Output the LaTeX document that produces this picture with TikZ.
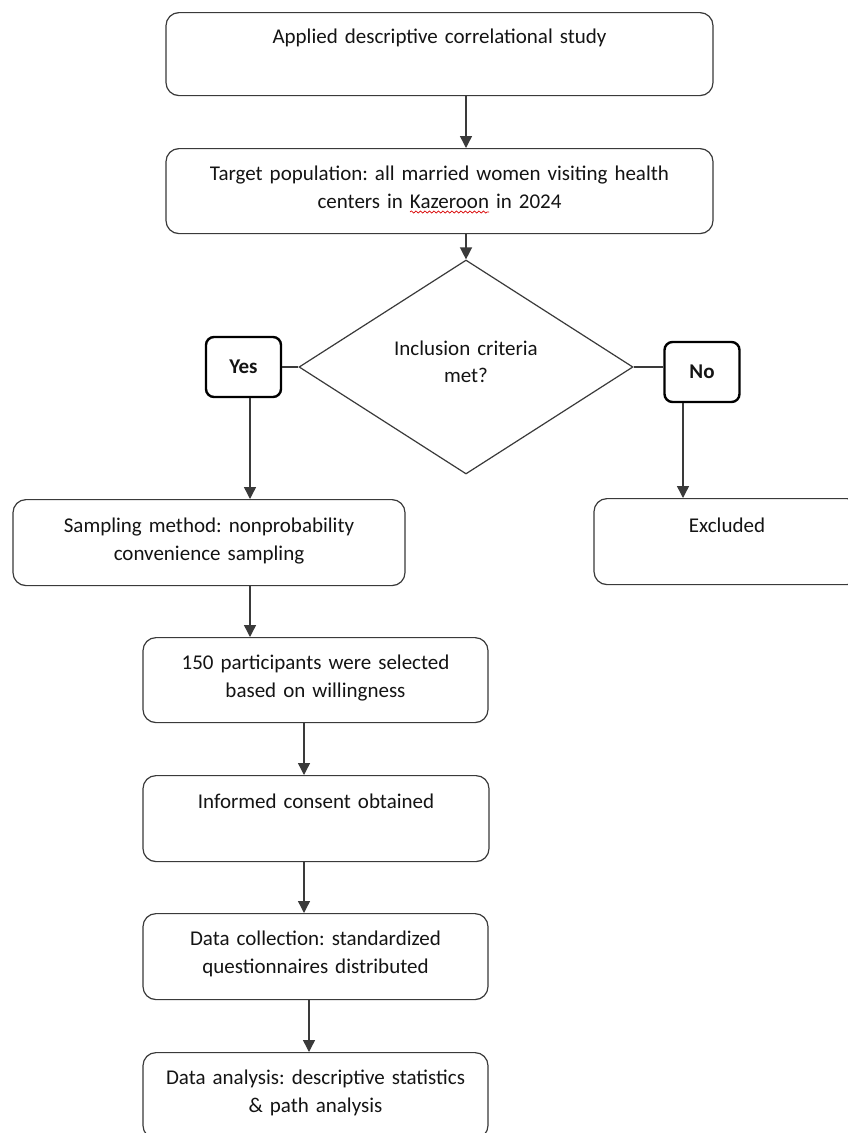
\documentclass[tikz,border=0pt]{standalone}
\usepackage{fontspec}
\setmainfont{Carlito}
\frenchspacing
\usetikzlibrary{shapes.geometric,arrows.meta,calc,decorations.pathmorphing}
\definecolor{edge}{HTML}{3A3A3A}
\definecolor{ink}{HTML}{141414}
\begin{document}
\begin{tikzpicture}[x=1pt,y=-1pt,
  box/.style={draw=edge, line width=1.2pt, rounded corners=13pt, fill=white, inner sep=0pt,
    align=center, font=\fontsize{21}{28}\selectfont, text=ink, anchor=north},
  tag/.style={draw=black, line width=2.4pt, rounded corners=8pt, fill=white, inner sep=0pt,
    font=\bfseries\fontsize{21}{28}\selectfont, text=ink, minimum width=75pt, minimum height=60pt},
  decision/.style={draw=edge, line width=1.2pt, diamond, fill=white, minimum width=334pt,
    minimum height=152pt, inner sep=0pt, text width=150pt, align=center,
    font=\fontsize{21}{27}\selectfont, text=ink},
  arr/.style={draw=edge, line width=1.4pt, -{Triangle[length=12pt,width=12pt]}},
  link/.style={draw=edge, line width=1.4pt},
  spell/.style={draw=red!85!black, line width=0.7pt, decorate,
    decoration={snake, amplitude=1.1pt, segment length=4.5pt}}]
\useasboundingbox (0,0) rectangle (847,1133);
\fill[white] (0,0) rectangle (847,1133);

\node[box, text width=547pt, text height=31pt, text depth=52pt] (b1) at (439.5,12)
  {Applied descriptive correlational study};
\node[box, text width=547pt, text height=32pt, text depth=53pt] (b2) at (439.5,148)
  {Target population: all married women visiting health\\centers in Kazeroon in 2024};
\node[decision, text height=20pt, text depth=44pt] (d) at (466,367)
  {Inclusion criteria\\met?};
\node[tag] (yes) at (243.5,367) {Yes};
\node[tag] (no) at (702,372) {No};
\node[box, text width=392pt, text height=33pt, text depth=53pt] (samp) at (209,499)
  {Sampling method: nonprobability\\convenience sampling};
\node[box, text width=266pt, text height=34pt, text depth=52pt] (excl) at (727,498)
  {Excluded};
\node[box, text width=345pt, text height=32pt, text depth=53pt] (p150) at (315.5,637)
  {150 participants were selected\\based on willingness};
\node[box, text width=346pt, text height=33pt, text depth=53pt] (cons) at (316,775)
  {Informed consent obtained};
\node[box, text width=345pt, text height=32pt, text depth=54pt] (coll) at (315.5,913)
  {Data collection: standardized\\questionnaires distributed};
\node[box, text width=345pt, text height=32pt, text depth=54pt] (ana) at (315.5,1052)
  {Data analysis: descriptive statistics\\\& path analysis};

% spell-check underline under "Kazeroon"
\fontsize{21}{28}\selectfont
\pgfmathsetmacro\wline{width("centers in Kazeroon in 2024")}
\pgfmathsetmacro\wpre{width("centers in ")}
\pgfmathsetmacro\wkaz{width("Kazeroon")}
\pgfmathsetmacro\kx{439.5-\wline/2+\wpre}
\pgfmathsetmacro\ky{\kx+\wkaz}
\draw[spell] (\kx,212) -- (\ky,212);

\draw[arr] (b1.south -| d.north) -- (b2.north -| d.north);
\draw[arr] (b2.south -| d.north) -- (d.north);
\draw[link] (yes.east) -- (d.west);
\draw[link] (d.east) -- (d.east -| no.west);
\draw[arr] ([xshift=6.5pt]yes.south) -- ([xshift=6.5pt]yes.south |- samp.north);
\draw[arr] ([xshift=-19pt]no.south) -- ([xshift=-19pt]no.south |- excl.north);
\draw[arr] ([xshift=41pt]samp.south) -- ([xshift=41pt]samp.south |- p150.north);
\draw[arr] ([xshift=-11.5pt]p150.south) -- ([xshift=-11.5pt]p150.south |- cons.north);
\draw[arr] ([xshift=-12pt]cons.south) -- ([xshift=-12pt]cons.south |- coll.north);
\draw[arr] ([xshift=-6.5pt]coll.south) -- ([xshift=-6.5pt]coll.south |- ana.north);
\end{tikzpicture}
\end{document}
